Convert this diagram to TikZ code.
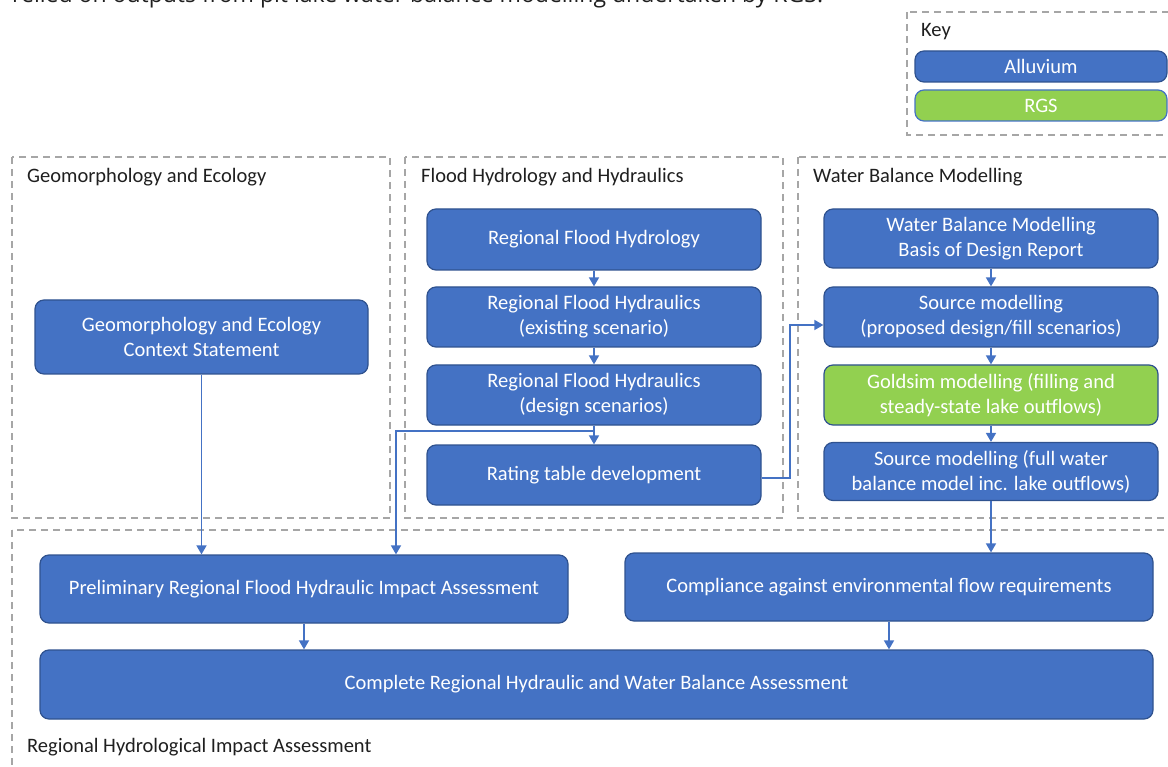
\documentclass[tikz,border=0pt]{standalone}
\usepackage{fontspec}
\setmainfont{Carlito}
\newfontfamily\leadfont{Open Sans}
\usetikzlibrary{arrows.meta}
\definecolor{boxblue}{HTML}{4472C4}
\definecolor{boxedge}{HTML}{2F528F}
\definecolor{boxgreen}{HTML}{92D050}
\definecolor{framegrey}{HTML}{A6A6A6}
\definecolor{inkdark}{HTML}{1F1F1F}
\begin{document}
\begin{tikzpicture}[x=1pt,y=-1pt,
  task/.style={draw=boxedge, fill=boxblue, line width=1.2pt, rounded corners=9pt,
    text=white, align=center, font=\fontsize{20.5}{25}\selectfont, inner sep=0pt},
  rgs/.style={task, fill=boxgreen},
  frame/.style={draw=framegrey, line width=1.4pt, dash pattern=on 7pt off 5pt},
  heading/.style={anchor=west, text=inkdark, font=\fontsize{20.5}{24}\selectfont, inner sep=0pt},
  link/.style={draw=boxblue, line width=1.6pt, -{Triangle[width=10pt,length=9pt]}},
]
\useasboundingbox (0,0) rectangle (1168,767);
\begin{scope}
\clip (0,0) rectangle (1168,767);

% closing line of the preceding paragraph
\node[anchor=base west, inner sep=0pt, text=inkdark,
  font=\leadfont\fontsize{23}{26}\selectfont] (lead) at (12,3)
  {relied on outputs from pit lake water balance modelling undertaken by RGS.};

% dashed group frames
\draw[frame] (907,12) rectangle (1185,135);
\draw[frame] (12,157) rectangle (390,518);
\draw[frame] (405,157) rectangle (783,518);
\draw[frame] (798,157) rectangle (1185,518);
\draw[frame] (12,530) rectangle (1185,785);

% key
\node[heading] (keyhead) at (921,32) {Key};
\node[task, minimum width=252pt, minimum height=31pt] (keyall) at (1041,66.5) {Alluvium};
\node[rgs, draw=boxblue, minimum width=252pt, minimum height=31pt] (keyrgs) at (1041,105.5) {RGS};

% group headings
\node[heading] (hgeo) at (27,177) {Geomorphology and Ecology};
\node[heading] (hflood) at (421,177) {Flood Hydrology and Hydraulics};
\node[heading] (hwb) at (813,177) {Water Balance Modelling};
\node[heading] (hreg) at (27,747) {Regional Hydrological Impact Assessment};

% geomorphology and ecology
\node[task, minimum width=333pt, minimum height=74pt] (geo) at (201.5,337)
  {Geomorphology and Ecology\\Context Statement};

% flood hydrology and hydraulics
\node[task, minimum width=334pt, minimum height=61pt] (rfh) at (594,239.5) {Regional Flood Hydrology};
\node[task, minimum width=334pt, minimum height=60pt] (rfhe) at (594,317)
  {Regional Flood Hydraulics\\(existing scenario)};
\node[task, minimum width=334pt, minimum height=60pt] (rfhd) at (594,395)
  {Regional Flood Hydraulics\\(design scenarios)};
\node[task, minimum width=334pt, minimum height=60pt] (rate) at (594,475) {Rating table development};

% water balance modelling
\node[task, minimum width=334pt, minimum height=59pt] (bod) at (991,238.5)
  {Water Balance Modelling\\Basis of Design Report};
\node[task, minimum width=334pt, minimum height=60pt] (srcp) at (991,317)
  {Source modelling\\(proposed design/fill scenarios)};
\node[rgs, minimum width=334pt, minimum height=60pt] (gold) at (991,395)
  {Goldsim modelling (filling and\\steady-state lake outflows)};
\node[task, minimum width=334pt, minimum height=58pt] (srcf) at (991,471.5)
  {Source modelling (full water\\balance model inc. lake outflows)};

% regional hydrological impact assessment
\node[task, minimum width=528pt, minimum height=68pt] (prelim) at (304,589)
  {Preliminary Regional Flood Hydraulic Impact Assessment};
\node[task, minimum width=528pt, minimum height=68pt] (comp) at (889,587)
  {Compliance against environmental flow requirements};
\node[task, minimum width=1113pt, minimum height=69pt] (full) at (596.5,684.5)
  {Complete Regional Hydraulic and Water Balance Assessment};

% connectors
\draw[link] (geo.south) -- (geo.south |- prelim.north);
\draw[link] (rfh.south) -- (rfhe.north);
\draw[link] (rfhe.south) -- (rfhd.north);
\draw[link] (rfhd.south) -- (rate.north);
\coordinate (splitd) at (396,431);
\draw[link] (rfhd.south) |- (splitd) -- (splitd |- prelim.north);
\coordinate (railr) at (790,478);
\coordinate (entry) at (790,325);
\draw[link] (rate.east |- railr) -- (railr) -- (entry) -- (srcp.west |- entry);
\draw[link] (bod.south) -- (srcp.north);
\draw[link] (srcp.south) -- (gold.north);
\draw[link] (gold.south) -- (srcf.north);
\draw[link] (srcf.south) -- (srcf.south |- comp.north);
\draw[link] (prelim.south) -- (prelim.south |- full.north);
\draw[link] (comp.south) -- (comp.south |- full.north);
\end{scope}
\end{tikzpicture}
\end{document}
